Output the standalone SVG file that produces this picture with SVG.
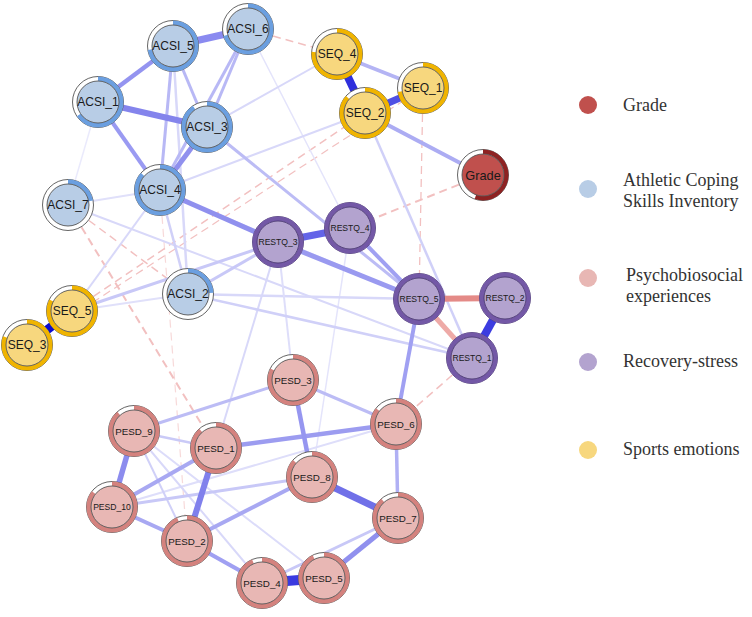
<svg xmlns="http://www.w3.org/2000/svg" width="752" height="617" viewBox="0 0 752 617">
<style>
.o{fill:#fff;stroke:#555;stroke-width:0.9}
.r{fill:none;stroke-width:4.5}
.i{stroke:#555;stroke-width:0.9}
.acsi .r{stroke:#6b9fe0}.acsi .i{fill:#b8cde6}
.seq .r{stroke:#f0b400}.seq .i{fill:#f7d77e}
.grade .r{stroke:#8e2222}.grade .i{fill:#c0504d}
.restq .o{stroke:#4a3872}.restq .r{stroke:#7358a6}.restq .i{fill:#b3a3cf;stroke:#4a3872}
.pesd .r{stroke:#d4827e}.pesd .i{fill:#e8b7b4}
.lb{font-family:"Liberation Sans",Arial,sans-serif;text-anchor:middle;fill:#1a1a1a}
.t12{font-size:12px}.t10{font-size:9.8px}.t9{font-size:8.6px}
.lg{font-family:"Liberation Serif","Times New Roman",serif;font-size:18px;fill:#333}
.neg{stroke:#f2c0c0;stroke-dasharray:8 5}
</style>
<rect width="752" height="617" fill="#fff"/>
<g id="connectors" fill="none">
<line class="neg" x1="248" y1="29" x2="337" y2="54" stroke-width="1.5"/>
<line class="neg" x1="423" y1="88" x2="419" y2="299" stroke-width="1.3"/>
<line class="neg" x1="483" y1="175" x2="350" y2="228" stroke-width="2"/>
<line class="neg" x1="472" y1="358" x2="396" y2="424" stroke-width="1.5"/>
<line class="neg" x1="68" y1="205" x2="216" y2="448" stroke-width="2"/>
<line class="neg" x1="68" y1="205" x2="188" y2="294" stroke-width="1.5"/>
<line class="neg" x1="72" y1="311" x2="365" y2="113" stroke-width="1.5"/>
<line class="neg" x1="27" y1="345" x2="423" y2="88" stroke-width="1.2"/>
<line class="neg" x1="160" y1="190" x2="187" y2="541" stroke-width="1.2" opacity="0.6"/>
<line x1="98" y1="102" x2="68" y2="205" stroke="#eaeafc" stroke-width="1.5"/>
<line x1="248" y1="29" x2="350" y2="228" stroke="#e4e4fb" stroke-width="1.5"/>
<line x1="350" y1="228" x2="312" y2="477" stroke="#e4e4fb" stroke-width="1.5"/>
<line x1="112" y1="507" x2="396" y2="424" stroke="#dedefa" stroke-width="2"/>
<line x1="134" y1="431" x2="262" y2="583" stroke="#d8d8f9" stroke-width="2"/>
<line x1="134" y1="431" x2="324" y2="578" stroke="#dcdcfa" stroke-width="2"/>
<line x1="160" y1="190" x2="68" y2="205" stroke="#e0e0fa" stroke-width="2"/>
<line x1="160" y1="190" x2="419" y2="299" stroke="#e0e0fa" stroke-width="2"/>
<line x1="72" y1="311" x2="188" y2="294" stroke="#e0e0fa" stroke-width="2"/>
<line x1="72" y1="311" x2="160" y2="190" stroke="#d8d8f9" stroke-width="2"/>
<line x1="337" y1="54" x2="207" y2="127" stroke="#d8d8f9" stroke-width="2"/>
<line x1="365" y1="113" x2="160" y2="190" stroke="#d8d8f9" stroke-width="2"/>
<line x1="173" y1="46" x2="188" y2="294" stroke="#d8d8f9" stroke-width="2.5"/>
<line x1="188" y1="294" x2="419" y2="299" stroke="#d8d8f9" stroke-width="2.5"/>
<line x1="68" y1="205" x2="472" y2="358" stroke="#d8d8f9" stroke-width="2"/>
<line x1="278" y1="242" x2="216" y2="448" stroke="#d8d8f9" stroke-width="2"/>
<line x1="278" y1="242" x2="293" y2="380" stroke="#dedefa" stroke-width="2"/>
<line x1="188" y1="294" x2="472" y2="358" stroke="#d0d0f8" stroke-width="2.5"/>
<line x1="160" y1="190" x2="188" y2="294" stroke="#d0d0f8" stroke-width="2.5"/>
<line x1="365" y1="113" x2="472" y2="358" stroke="#d0d0f8" stroke-width="2.5"/>
<line x1="188" y1="294" x2="278" y2="242" stroke="#c8c8f7" stroke-width="3"/>
<line x1="72" y1="311" x2="278" y2="242" stroke="#c8c8f7" stroke-width="3"/>
<line x1="134" y1="431" x2="216" y2="448" stroke="#cacaf7" stroke-width="2.5"/>
<line x1="134" y1="431" x2="187" y2="541" stroke="#d0d0f8" stroke-width="2"/>
<line x1="262" y1="583" x2="398" y2="518" stroke="#c8c8f7" stroke-width="3"/>
<line x1="112" y1="507" x2="312" y2="477" stroke="#c8c8f7" stroke-width="3"/>
<line x1="207" y1="127" x2="419" y2="299" stroke="#bcbcf5" stroke-width="3"/>
<line x1="173" y1="46" x2="160" y2="190" stroke="#b8b8f5" stroke-width="3"/>
<line x1="173" y1="46" x2="207" y2="127" stroke="#b8b8f5" stroke-width="3"/>
<line x1="248" y1="29" x2="207" y2="127" stroke="#b8b8f5" stroke-width="3"/>
<line x1="248" y1="29" x2="160" y2="190" stroke="#b8b8f5" stroke-width="3"/>
<line x1="337" y1="54" x2="423" y2="88" stroke="#b4b4f4" stroke-width="3.5"/>
<line x1="365" y1="113" x2="483" y2="175" stroke="#acacf3" stroke-width="4"/>
<line x1="293" y1="380" x2="134" y2="431" stroke="#bcbcf5" stroke-width="3"/>
<line x1="293" y1="380" x2="396" y2="424" stroke="#bcbcf5" stroke-width="3"/>
<line x1="396" y1="424" x2="398" y2="518" stroke="#b0b0f4" stroke-width="3.5"/>
<line x1="216" y1="448" x2="112" y2="507" stroke="#a8a8f2" stroke-width="4"/>
<line x1="112" y1="507" x2="187" y2="541" stroke="#a8a8f2" stroke-width="4"/>
<line x1="187" y1="541" x2="312" y2="477" stroke="#a8a8f2" stroke-width="4"/>
<line x1="187" y1="541" x2="262" y2="583" stroke="#a0a0f2" stroke-width="4"/>
<line x1="216" y1="448" x2="396" y2="424" stroke="#9c9cf0" stroke-width="4.5"/>
<line x1="293" y1="380" x2="312" y2="477" stroke="#9696f0" stroke-width="4.5"/>
<line x1="324" y1="578" x2="398" y2="518" stroke="#9090ee" stroke-width="5"/>
<line x1="134" y1="431" x2="112" y2="507" stroke="#8c8cee" stroke-width="5.5"/>
<line x1="216" y1="448" x2="187" y2="541" stroke="#8080ec" stroke-width="6"/>
<line x1="419" y1="299" x2="396" y2="424" stroke="#a0a0f2" stroke-width="4"/>
<line x1="350" y1="228" x2="419" y2="299" stroke="#a0a0f2" stroke-width="4"/>
<line x1="278" y1="242" x2="419" y2="299" stroke="#9a9af0" stroke-width="5"/>
<line x1="98" y1="102" x2="160" y2="190" stroke="#9a9af2" stroke-width="4"/>
<line x1="207" y1="127" x2="160" y2="190" stroke="#9090ee" stroke-width="5"/>
<line x1="160" y1="190" x2="278" y2="242" stroke="#9090ee" stroke-width="5"/>
<line x1="173" y1="46" x2="98" y2="102" stroke="#9494f0" stroke-width="4.5"/>
<line x1="98" y1="102" x2="207" y2="127" stroke="#8484ec" stroke-width="6"/>
<line x1="173" y1="46" x2="248" y2="29" stroke="#8a8af0" stroke-width="7"/>
<line x1="419" y1="299" x2="472" y2="358" stroke="#eeaaa7" stroke-width="5"/>
<line x1="419" y1="299" x2="505" y2="298" stroke="#e48a87" stroke-width="6"/>
<line x1="312" y1="477" x2="398" y2="518" stroke="#7070e8" stroke-width="7"/>
<line x1="278" y1="242" x2="350" y2="228" stroke="#6464e8" stroke-width="7"/>
<line x1="365" y1="113" x2="423" y2="88" stroke="#5050e4" stroke-width="7"/>
<line x1="505" y1="298" x2="472" y2="358" stroke="#3c3ce0" stroke-width="8"/>
<line x1="337" y1="54" x2="365" y2="113" stroke="#2f2fdc" stroke-width="8"/>
<line x1="262" y1="583" x2="324" y2="578" stroke="#3a3ae0" stroke-width="10"/>
<line x1="72" y1="311" x2="27" y2="345" stroke="#0c0cd0" stroke-width="9"/>
</g>
<g id="ACSI_5" class="acsi" transform="translate(173,46)"><circle class="o" r="25.5"/><circle class="r" r="23.25" stroke-dasharray="105.2 200" transform="rotate(-90)"/><circle class="i" r="21"/><text class="lb t12" y="4.3">ACSI_5</text></g>
<g id="ACSI_6" class="acsi" transform="translate(248,29)"><circle class="o" r="25.5"/><circle class="r" r="23.25" stroke-dasharray="102.3 200" transform="rotate(-90)"/><circle class="i" r="21"/><text class="lb t12" y="4.3">ACSI_6</text></g>
<g id="ACSI_1" class="acsi" transform="translate(98,102)"><circle class="o" r="25.5"/><circle class="r" r="23.25" stroke-dasharray="95 200" transform="rotate(-90)"/><circle class="i" r="21"/><text class="lb t12" y="4.3">ACSI_1</text></g>
<g id="ACSI_3" class="acsi" transform="translate(207,127)"><circle class="o" r="25.5"/><circle class="r" r="23.25" stroke-dasharray="131.5 200" transform="rotate(-90)"/><circle class="i" r="21"/><text class="lb t12" y="4.3">ACSI_3</text></g>
<g id="ACSI_4" class="acsi" transform="translate(160,190)"><circle class="o" r="25.5"/><circle class="r" r="23.25" stroke-dasharray="125.6 200" transform="rotate(-90)"/><circle class="i" r="21"/><text class="lb t12" y="4.3">ACSI_4</text></g>
<g id="ACSI_7" class="acsi" transform="translate(68,205)"><circle class="o" r="25.5"/><circle class="r" r="23.25" stroke-dasharray="32.1 200" transform="rotate(-90)"/><circle class="i" r="21"/><text class="lb t12" y="4.3">ACSI_7</text></g>
<g id="ACSI_2" class="acsi" transform="translate(188,294)"><circle class="o" r="25.5"/><circle class="r" r="23.25" stroke-dasharray="35.1 200" transform="rotate(-90)"/><circle class="i" r="21"/><text class="lb t12" y="4.3">ACSI_2</text></g>
<g id="SEQ_4" class="seq" transform="translate(337,54)"><circle class="o" r="25.5"/><circle class="r" r="23.25" stroke-dasharray="111 200" transform="rotate(-90)"/><circle class="i" r="21"/><text class="lb t12" y="4.3">SEQ_4</text></g>
<g id="SEQ_1" class="seq" transform="translate(423,88)"><circle class="o" r="25.5"/><circle class="r" r="23.25" stroke-dasharray="105.2 200" transform="rotate(-90)"/><circle class="i" r="21"/><text class="lb t12" y="4.3">SEQ_1</text></g>
<g id="SEQ_2" class="seq" transform="translate(365,113)"><circle class="o" r="25.5"/><circle class="r" r="23.25" stroke-dasharray="125.6 200" transform="rotate(-90)"/><circle class="i" r="21"/><text class="lb t12" y="4.3">SEQ_2</text></g>
<g id="SEQ_5" class="seq" transform="translate(72,311)"><circle class="o" r="25.5"/><circle class="r" r="23.25" stroke-dasharray="119.8 200" transform="rotate(-90)"/><circle class="i" r="21"/><text class="lb t12" y="4.3">SEQ_5</text></g>
<g id="SEQ_3" class="seq" transform="translate(27,345)"><circle class="o" r="25.5"/><circle class="r" r="23.25" stroke-dasharray="116.9 200" transform="rotate(-90)"/><circle class="i" r="21"/><text class="lb t12" y="4.3">SEQ_3</text></g>
<g id="Grade" class="grade" transform="translate(483,175)"><circle class="o" r="25.5"/><circle class="r" r="23.25" stroke-dasharray="80.3 200" transform="rotate(-90)"/><circle class="i" r="21"/><text class="lb" y="4.6" style="font-size:12.8px">Grade</text></g>
<g id="RESTQ_3" class="restq" transform="translate(278,242)"><circle class="o" r="25.5"/><circle class="r" r="23.25"/><circle class="i" r="21"/><text class="lb t9" y="3">RESTQ_3</text></g>
<g id="RESTQ_4" class="restq" transform="translate(350,228)"><circle class="o" r="25.5"/><circle class="r" r="23.25"/><circle class="i" r="21"/><text class="lb t9" y="3">RESTQ_4</text></g>
<g id="RESTQ_5" class="restq" transform="translate(419,299)"><circle class="o" r="25.5"/><circle class="r" r="23.25"/><circle class="i" r="21"/><text class="lb t9" y="3">RESTQ_5</text></g>
<g id="RESTQ_2" class="restq" transform="translate(505,298)"><circle class="o" r="25.5"/><circle class="r" r="23.25"/><circle class="i" r="21"/><text class="lb t9" y="3">RESTQ_2</text></g>
<g id="RESTQ_1" class="restq" transform="translate(472,358)"><circle class="o" r="25.5"/><circle class="r" r="23.25"/><circle class="i" r="21"/><text class="lb t9" y="3">RESTQ_1</text></g>
<g id="PESD_3" class="pesd" transform="translate(293,380)"><circle class="o" r="25.5"/><circle class="r" r="23.25" stroke-dasharray="119.8 200" transform="rotate(-90)"/><circle class="i" r="21"/><text class="lb t10" y="3.5">PESD_3</text></g>
<g id="PESD_9" class="pesd" transform="translate(134,431)"><circle class="o" r="25.5"/><circle class="r" r="23.25" stroke-dasharray="128.6 200" transform="rotate(-90)"/><circle class="i" r="21"/><text class="lb t10" y="3.5">PESD_9</text></g>
<g id="PESD_1" class="pesd" transform="translate(216,448)"><circle class="o" r="25.5"/><circle class="r" r="23.25" stroke-dasharray="128.6 200" transform="rotate(-90)"/><circle class="i" r="21"/><text class="lb t10" y="3.5">PESD_1</text></g>
<g id="PESD_10" class="pesd" transform="translate(112,507)"><circle class="o" r="25.5"/><circle class="r" r="23.25" stroke-dasharray="124.2 200" transform="rotate(-90)"/><circle class="i" r="21"/><text class="lb t9" y="3">PESD_10</text></g>
<g id="PESD_2" class="pesd" transform="translate(187,541)"><circle class="o" r="25.5"/><circle class="r" r="23.25" stroke-dasharray="135.9 200" transform="rotate(-90)"/><circle class="i" r="21"/><text class="lb t10" y="3.5">PESD_2</text></g>
<g id="PESD_4" class="pesd" transform="translate(262,583)"><circle class="o" r="25.5"/><circle class="r" r="23.25" stroke-dasharray="135.9 200" transform="rotate(-90)"/><circle class="i" r="21"/><text class="lb t10" y="3.5">PESD_4</text></g>
<g id="PESD_5" class="pesd" transform="translate(324,578)"><circle class="o" r="25.5"/><circle class="r" r="23.25" stroke-dasharray="134.4 200" transform="rotate(-90)"/><circle class="i" r="21"/><text class="lb t10" y="3.5">PESD_5</text></g>
<g id="PESD_6" class="pesd" transform="translate(396,424)"><circle class="o" r="25.5"/><circle class="r" r="23.25" stroke-dasharray="124.2 200" transform="rotate(-90)"/><circle class="i" r="21"/><text class="lb t10" y="3.5">PESD_6</text></g>
<g id="PESD_8" class="pesd" transform="translate(312,477)"><circle class="o" r="25.5"/><circle class="r" r="23.25" stroke-dasharray="125.6 200" transform="rotate(-90)"/><circle class="i" r="21"/><text class="lb t10" y="3.5">PESD_8</text></g>
<g id="PESD_7" class="pesd" transform="translate(398,518)"><circle class="o" r="25.5"/><circle class="r" r="23.25" stroke-dasharray="128.6 200" transform="rotate(-90)"/><circle class="i" r="21"/><text class="lb t10" y="3.5">PESD_7</text></g>
<g id="legend">
<circle cx="588" cy="105" r="9" fill="#c0504d"/><text class="lg" x="623" y="111">Grade</text>
<circle cx="588" cy="189" r="9" fill="#b8cde6"/><text class="lg" x="623" y="186">Athletic Coping</text><text class="lg" x="623" y="207">Skills Inventory</text>
<circle cx="588" cy="278" r="9" fill="#e8b7b4"/><text class="lg" x="626" y="281">Psychobiosocial</text><text class="lg" x="626" y="302">experiences</text>
<circle cx="588" cy="362" r="9" fill="#b3a3cf"/><text class="lg" x="623" y="367">Recovery-stress</text>
<circle cx="588" cy="450" r="9" fill="#f7d77e"/><text class="lg" x="623" y="455">Sports emotions</text>
</g>
</svg>
